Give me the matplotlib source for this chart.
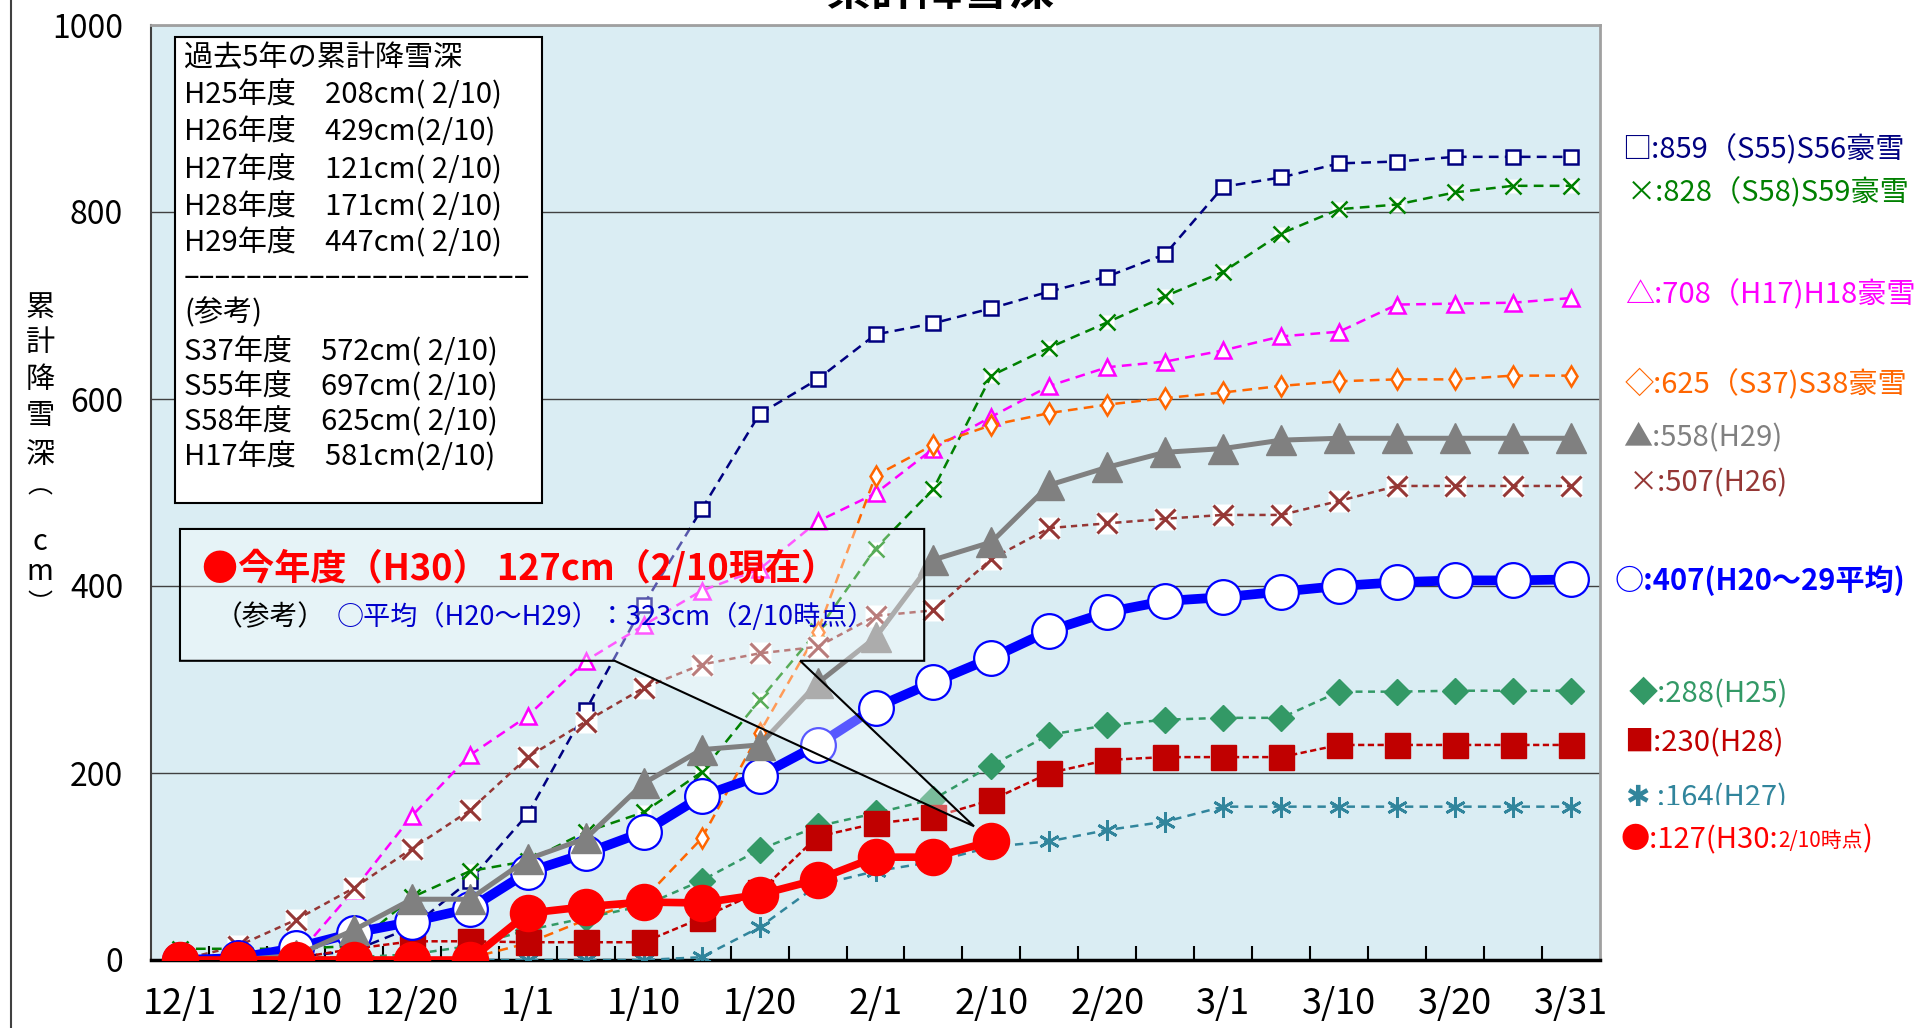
import numpy as np
import matplotlib
matplotlib.use('Agg')
import matplotlib.pyplot as plt
from matplotlib.patches import Polygon, Rectangle
from matplotlib.lines import Line2D

plt.rcParams['font.family'] = ['Noto Sans CJK JP', 'DejaVu Sans']
plt.rcParams['lines.scale_dashes'] = False

# pentad dates, 12/1 .. 3/31
dates = ['12/1', '12/5', '12/10', '12/15', '12/20', '12/25', '1/1', '1/5', '1/10',
         '1/15', '1/20', '1/25', '2/1', '2/5', '2/10', '2/15', '2/20', '2/25',
         '3/1', '3/5', '3/10', '3/15', '3/20', '3/25', '3/31']

# cumulative snowfall (cm)
s55 = [0, 0, 3, 10, 35, 85, 156, 267, 380, 482, 584, 621, 669, 681, 697, 715, 731, 755, 827, 837, 852, 854, 859, 859, 859]
s58 = [12, 12, 12, 15, 67, 95, 106, 137, 158, 201, 278, 352, 440, 504, 625, 655, 682, 710, 736, 777, 803, 808, 821, 828, 828]
h17 = [0, 0, 3, 75, 154, 219, 261, 320, 358, 395, 418, 469, 499, 547, 581, 614, 634, 640, 652, 667, 672, 701, 702, 703, 708]
s37 = [0, 0, 0, 0, 0, 2, 18, 43, 65, 130, 243, 351, 518, 551, 572, 585, 594, 601, 607, 614, 619, 621, 621, 625, 625]
h29 = [0, 0, 5, 32, 65, 65, 108, 130, 189, 225, 230, 296, 345, 428, 447, 508, 527, 543, 547, 556, 558, 558, 558, 558, 558]
h26 = [0, 15, 43, 77, 119, 160, 217, 255, 291, 316, 328, 335, 368, 374, 429, 462, 467, 472, 476, 476, 491, 507, 507, 507, 507]
avg = [0, 2, 13, 29, 41, 55, 94, 114, 137, 175, 197, 230, 270, 297, 323, 352, 372, 384, 388, 394, 400, 404, 406, 406, 407]
h25 = [3, 3, 3, 3, 6, 15, 32, 45, 58, 85, 118, 143, 157, 172, 208, 241, 251, 257, 259, 259, 287, 287, 288, 288, 288]
h28 = [0, 0, 2, 12, 20, 20, 19, 19, 19, 45, 73, 132, 146, 153, 171, 200, 214, 217, 217, 217, 230, 230, 230, 230, 230]
h27 = [0, 0, 0, 0, 0, 0, 0, 0, 0, 3, 35, 80, 95, 105, 121, 127, 139, 148, 164, 164, 164, 164, 164, 164, 164]
h30 = [0, 0, 0, 0, 0, 0, 50, 57, 62, 61, 70, 86, 110, 110, 127]

past_lines = ['過去5年の累計降雪深',
              'H25年度　208cm( 2/10)',
              'H26年度　429cm(2/10)',
              'H27年度　121cm( 2/10)',
              'H28年度　171cm( 2/10)',
              'H29年度　447cm( 2/10)',
              '–' * 22,
              '(参考)',
              'S37年度　572cm( 2/10)',
              'S55年度　697cm( 2/10)',
              'S58年度　625cm( 2/10)',
              'H17年度　581cm(2/10)']

W, H = 1922, 1028
fig = plt.figure(figsize=(W / 100, H / 100), dpi=100)
ax = fig.add_axes([151 / W, 1 - 960 / H, 1449 / W, 935 / H])
ax.set_facecolor('#DAEDF3')
x = np.arange(len(dates))


def series(vals, color, ls, lw, marker, ms, mfc, mec, mew, z):
    ax.plot(x[:len(vals)], vals, color=color, linestyle=ls, lw=lw, marker=marker,
            ms=ms, mfc=mfc, mec=mec, mew=mew, zorder=z)


series(s55, '#000080', (0, (7, 4.5)), 1.8, 's', 10, 'white', '#000080', 1.8, 3.0)
ax.plot(x, s58, ls='none', marker='s', ms=10, mfc='white', mec='none', zorder=3.05)
series(s58, '#008000', (0, (7, 4.5)), 1.8, 'x', 11, 'none', '#008000', 1.8, 3.1)
series(h17, '#FF00FF', (0, (7, 4.5)), 1.8, '^', 11, 'white', '#FF00FF', 1.8, 3.2)
series(s37, '#FF6600', (0, (7, 4.5)), 1.8, 'd', 10, 'white', '#FF6600', 1.8, 3.3)
series(h25, '#339966', (0, (5, 4)), 1.8, 'D', 13, '#339966', '#339966', 1, 3.4)
series(h27, '#31859C', (0, (6, 4.5)), 1.8, (6, 2, 0), 15, 'none', '#31859C', 2, 3.5)
series(h28, '#C00000', (0, (4.5, 2.5)), 1.8, 's', 18, '#C00000', '#C00000', 1, 3.6)
ax.plot(x, h26, ls='none', marker='s', ms=16, mfc='white', mec='none', zorder=3.65)
series(h26, '#953735', (0, (4.5, 3.5)), 1.8, 'x', 15, 'none', '#953735', 2.2, 3.7)
series(avg, '#0000FF', '-', 7, 'o', 25, 'white', '#0000FF', 1.6, 3.8)
series(h29, '#808080', '-', 3.6, '^', 21, '#808080', '#808080', 1, 3.9)
series(h30, '#FF0000', '-', 5.5, 'o', 26, '#FF0000', '#FF0000', 1, 5)

ax.set_xlim(-0.5, 24.5)
ax.set_ylim(0, 1000)
ax.set_xticks(x[::2])
ax.set_xticklabels(dates[::2], fontsize=26)
ax.set_xticks(np.arange(0.5, 24, 1), minor=True)
ax.tick_params(axis='x', which='major', length=0, pad=19)
ax.tick_params(axis='x', which='minor', direction='in', length=10, width=1.5)
ax.set_yticks(range(0, 1001, 200))
ax.tick_params(axis='y', length=0, labelsize=23, pad=20)
ax.grid(axis='y', color='#404040', lw=1)
ax.set_axisbelow(True)
for side in ['top', 'right']:
    ax.spines[side].set_color('#A0A0A0')
    ax.spines[side].set_linewidth(2)
ax.spines['left'].set_color('#404040')
ax.spines['left'].set_linewidth(1.5)
ax.spines['bottom'].set_color('black')
ax.spines['bottom'].set_linewidth(2.5)

# past-years box
ax.add_patch(Rectangle((0.0166, 0.489), 0.2533, 0.498, transform=ax.transAxes,
                       facecolor='white', edgecolor='black', lw=1.5, zorder=6))
line_y = [58, 95, 132, 170, 207, 243, 277, 313, 352, 387, 422, 457]
for s, yy in zip(past_lines, line_y):
    fig.text(184 / W, 1 - yy / H, s, fontsize=21, va='center', zorder=7)

# callout with pointer to the 2/10 value
call = Polygon([(0.0, 461), (12.84, 461), (12.84, 320), (10.7, 320), (13.7, 143),
                (7.5, 320), (0.0, 320)], closed=True, facecolor=(1, 1, 1, 0.35),
               edgecolor='black', lw=1.5, zorder=4.5)
ax.add_patch(call)
fig.text(202 / W, 1 - 569 / H, '●今年度（H30） 127cm（2/10現在）', fontsize=26,
         fontweight='bold', color='#FF0000', va='center', zorder=7)
fig.text(215 / W, 1 - 617 / H, '（参考）', fontsize=20, va='center', zorder=7)
fig.text(337 / W, 1 - 617 / H, '○平均（H20～H29）：323cm（2/10時点）', fontsize=19.5,
         color='#0000CC', va='center', zorder=7)

# right-hand labels
right_labels = [
    ('□:859（S55)S56豪雪', '#000080', 150, 1622, 'normal'),
    ('×:828（S58)S59豪雪', '#008000', 193, 1627, 'normal'),
    ('△:708（H17)H18豪雪', '#FF00FF', 295, 1625, 'normal'),
    ('◇:625（S37)S38豪雪', '#FF6600', 384, 1625, 'normal'),
    ('▲:558(H29)', '#808080', 437, 1623, 'normal'),
    ('×:507(H26)', '#953735', 483, 1629, 'normal'),
    ('○:407(H20～29平均)', '#0000FF', 581, 1615, 'bold'),
    ('◆:288(H25)', '#339966', 693, 1629, 'normal'),
    ('■:230(H28)', '#C00000', 743, 1624, 'normal'),
    ('✱ :164(H27)', '#31859C', 798, 1626, 'normal'),
]
for s, c, yy, xx, wt in right_labels:
    fig.text(xx / W, 1 - yy / H, s, fontsize=21, color=c, va='center', fontweight=wt)
fig.add_artist(Rectangle((1655 / W, 1 - 822 / H), 160 / W, 17 / H, transform=fig.transFigure,
                         facecolor='white', edgecolor='none', zorder=10))

renderer = fig.canvas.get_renderer()
t1 = fig.text(1621 / W, 1 - 847 / H, '●:127(H30:', fontsize=21, color='#FF0000', va='baseline')
bb = t1.get_window_extent(renderer)
t2 = fig.text(bb.x1 / W, 1 - 847 / H, '2/10時点', fontsize=15, color='#FF0000', va='baseline')
bb = t2.get_window_extent(renderer)
fig.text(bb.x1 / W, 1 - 847 / H, ')', fontsize=21, color='#FF0000', va='baseline')

# y label, stacked vertically
for ch, yy, fs in zip(['累', '計', '降', '雪', '深', '︵', 'c', 'm', '︶'],
                      [308, 343, 380, 416, 455, 486, 542, 572, 604],
                      [21, 21, 21, 21, 21, 18, 21, 21, 18]):
    fig.text(40 / W, 1 - yy / H, ch, fontsize=fs, ha='center', va='center')

fig.text(940 / W, 1 + 8 / H, '累計降雪深', fontsize=33, fontweight='bold', ha='center', va='center')
fig.add_artist(Line2D([11 / W, 11 / W], [0, 1], transform=fig.transFigure, color='#404040', lw=1.5))

fig.savefig('out.png', dpi=100)
